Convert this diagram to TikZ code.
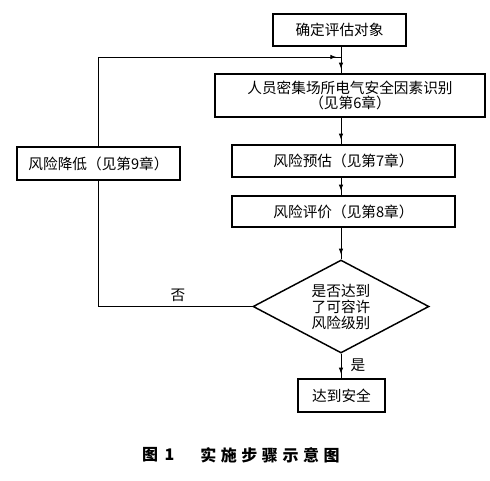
\documentclass[tikz,border=0pt]{standalone}
\usepackage{fontspec}
\setmainfont{Noto Sans CJK SC}
\usetikzlibrary{arrows.meta,shapes.geometric}
\begin{document}
\begin{tikzpicture}[x=0.75pt,y=-0.75pt,
  box/.style={draw, line width=1.1pt, inner sep=0pt, align=center,
    font=\fontsize{11pt}{11.8pt}\selectfont},
  dia/.style={draw, shape=diamond, aspect=1.89, line width=1.1pt, inner sep=0pt,
    align=center, font=\fontsize{11pt}{12pt}\selectfont},
  conn/.style={line width=0.75pt},
  flow/.style={conn, postaction={draw, -{Latex[length=4.5pt,width=3.4pt]}, shorten >=3.4pt}},
  lbl/.style={inner sep=0pt, font=\fontsize{11pt}{12pt}\selectfont},
  captext/.style={inner sep=0pt, font=\fontsize{12pt}{14pt}\selectfont\bfseries}]
\useasboundingbox (0,0) rectangle (490,480);
\node[box, minimum width=99.75pt, minimum height=24pt] (b1) at (339.5,30) {确定评估对象};
\node[box, minimum width=202.5pt, minimum height=32.25pt] (b2) at (350,95.5) {人员密集场所电气安全因素识别\\（见第6章）};
\node[box, minimum width=167.25pt, minimum height=24pt] (b3) at (343.5,161) {风险预估（见第7章）};
\node[box, minimum width=167.25pt, minimum height=23.25pt] (b4) at (343.5,211.5) {风险评价（见第8章）};
\node[dia, minimum width=132pt, minimum height=69.75pt] (d) at (341,306.5) {是否达到\\了可容许\\风险级别};
\node[box, minimum width=65.25pt, minimum height=24.75pt] (s) at (341.5,395.5) {达到安全};
\node[box, minimum width=122.25pt, minimum height=24.75pt] (r) at (98.5,163.5) {风险降低（见第9章）};
\coordinate (fb) at (341,57);
\draw[flow] (b1.south -| d.north) -- (b2.north -| d.north);
\draw[flow] (b2.south -| d.north) -- (b3.north -| d.north);
\draw[flow] (b3.south -| d.north) -- (b4.north -| d.north);
\draw[flow] (b4.south -| d.north) -- (d.north);
\draw[flow] (d.south) -- (s.north -| d.south);
\draw[conn] (d.west) -| (r.south);
\draw[flow] (r.north) |- (fb);
\node[lbl] (no) at (178,295) {否};
\node[lbl] (yes) at (358,365) {是};
\node[captext] (c1) at (150,455) {图};
\node[captext] (c2) at (169.5,455) {1};
\node[captext] (c3) at (270,455) {实\hspace{3.4pt}施\hspace{3.4pt}步\hspace{3.4pt}骤\hspace{3.4pt}示\hspace{3.4pt}意\hspace{3.4pt}图};
\end{tikzpicture}
\end{document}
